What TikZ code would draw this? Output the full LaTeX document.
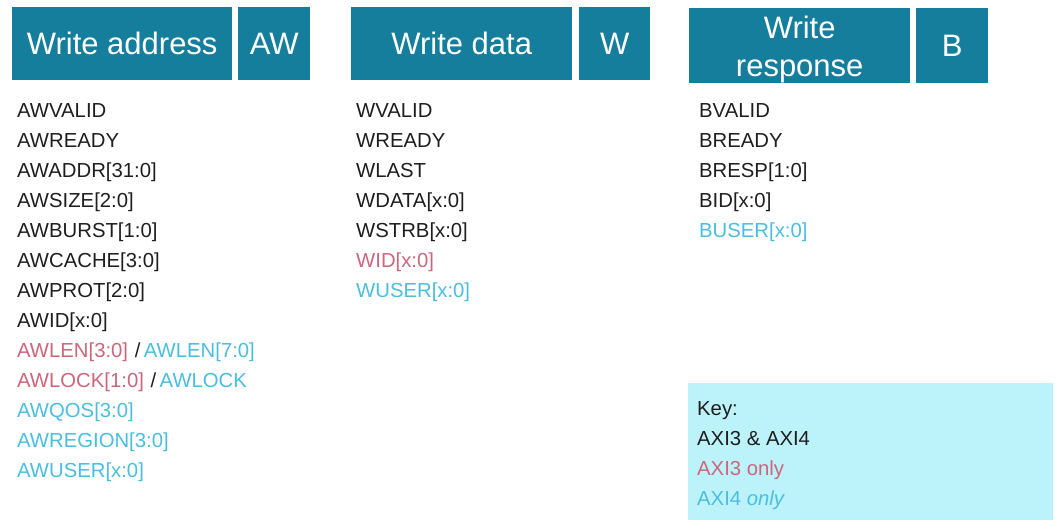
\documentclass[tikz,border=0pt]{standalone}
\usepackage{fontspec}
\setmainfont{Liberation Sans}
\usetikzlibrary{positioning}
\definecolor{hdrblue}{RGB}{22,126,157}
\definecolor{axithree}{RGB}{204,102,124}
\definecolor{axifour}{RGB}{74,190,225}
\definecolor{keybg}{RGB}{188,243,251}
\definecolor{sigtext}{RGB}{30,30,30}

\begin{document}
\begin{tikzpicture}[x=1pt,y=-1pt,
  hdr/.style={fill=hdrblue,text=white,font=\fontsize{31}{38}\selectfont,inner sep=0pt,minimum height=73pt,align=center,anchor=north west},
  sig/.style={anchor=base west,inner sep=0pt,text=sigtext,font=\fontsize{20.3}{24}\selectfont}]
		\useasboundingbox (0,0) rectangle (1058,528);

		% channel headers
		\node[hdr,minimum width=220pt] (aw hdr) at (12,7) {Write address};
		\node[hdr,minimum width=72pt] (aw tag) at (238,7) {AW};
		\node[hdr,minimum width=221pt] (w hdr) at (351,7) {Write data};
		\node[hdr,minimum width=71pt] (w tag) at (579,7) {W};
		\node[hdr,minimum width=221pt,minimum height=75pt] (b hdr) at (689,8)
			{\raisebox{-10.6pt}[0pt][0pt]{\begin{tabular}{@{}c@{}}Write\\response\end{tabular}}};
		\node[hdr,minimum width=72pt,minimum height=75pt] (b tag) at (916,8) {B};

		% write address signals
		\foreach \sname [count=\i from 0] in {AWVALID,AWREADY,AWADDR[31:0],AWSIZE[2:0],AWBURST[1:0],AWCACHE[3:0],AWPROT[2:0],AWID[x:0],
			{{\color{axithree}AWLEN[3:0]}\,\,/\,{\color{axifour}AWLEN[7:0]}},
			{{\color{axithree}AWLOCK[1:0]}\,\,/\,{\color{axifour}AWLOCK}},
			{\color{axifour}AWQOS[3:0]},{\color{axifour}AWREGION[3:0]},{\color{axifour}AWUSER[x:0]}}
			\node[sig] (aw\i) at (17,117+30*\i) {\sname};

		% write data signals
		\foreach \sname [count=\i from 0] in {WVALID,WREADY,WLAST,WDATA[x:0],WSTRB[x:0],{\color{axithree}WID[x:0]},{\color{axifour}WUSER[x:0]}}
			\node[sig] (w\i) at (356,117+30*\i) {\sname};

		% write response signals
		\foreach \sname [count=\i from 0] in {BVALID,BREADY,BRESP[1:0],BID[x:0],{\color{axifour}BUSER[x:0]}}
			\node[sig] (b\i) at (699,117+30*\i) {\sname};

		% key
		\fill[keybg] (688,383) rectangle (1053,520);
		\node[sig] (key0) at (697,415) {Key:};
		\node[sig] (key1) at (697,445) {AXI3 \& AXI4};
		\node[sig,text=axithree] (key2) at (697,475) {AXI3 only};
		\node[sig,text=axifour] (key3) at (697,505) {AXI4 \textit{only}};
\end{tikzpicture}
\end{document}
